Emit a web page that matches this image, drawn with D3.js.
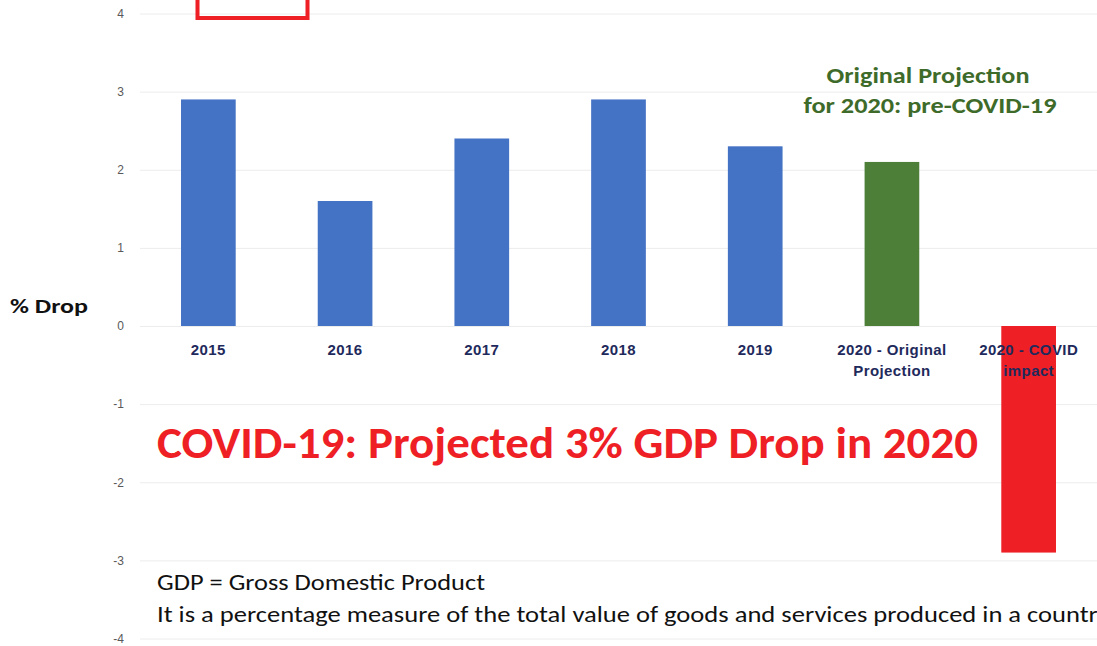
<!DOCTYPE html>
<html>
<head>
<meta charset="utf-8">
<script src="https://cdn.jsdelivr.net/npm/d3@7"></script>
<style>
  body { margin: 0; background: #fff; }
  svg { display: block; font-family: Carlito, Lato, "Open Sans", sans-serif; }
  .grid line { stroke: #ececec; }
  .grid text { fill: #595959; font-size: 12px; }
  .cat text { fill: #1f2a5c; font-weight: bold; font-size: 15px; }
</style>
</head>
<body>
<svg id="gdp"></svg>
<script>
const categories = ['2015', '2016', '2017', '2018', '2019', '2020 - Original Projection', '2020 - COVID impact'];
const categoryLines = [['2015'], ['2016'], ['2017'], ['2018'], ['2019'], ['2020 - Original', 'Projection'], ['2020 - COVID', 'impact']];
const values = [2.9, 1.6, 2.4, 2.9, 2.3, 2.1, -2.9];
const barColors = ['#4472c4', '#4472c4', '#4472c4', '#4472c4', '#4472c4', '#4e7f38', '#ee1f25'];
const yTicks = [-4, -3, -2, -1, 0, 1, 2, 3, 4];

(function() {
    const W = 1097, H = 646;
    const svg = d3.select('svg#gdp')
        .attr('width', W)
        .attr('height', H);

    const left = 140;

    const yScale = d3.scaleLinear()
        .domain([-4, 4])
        .range([638.5, 13.5]);

    const xScale = d3.scaleBand()
        .domain(categories)
        .range([left, W])
        .padding(0);

    // stretch text to the width it has in the original (Calibri is not here)
    function fit(sel, w) {
        sel.attr('textLength', w).attr('lengthAdjust', 'spacingAndGlyphs');
        return sel;
    }

    // grid + y labels
    svg.append('g')
        .attr('class', 'grid')
        .attr('transform', `translate(${left}, 0)`)
        .call(d3.axisLeft(yScale)
            .tickValues(yTicks)
            .tickSize(-(W - left))
            .tickPadding(16)
            .tickFormat(d => String(d)))
        .call(g => g.select('.domain').remove());

    // category labels
    const cat = svg.append('g')
        .attr('class', 'cat')
        .attr('transform', `translate(0, ${yScale(0)})`)
        .call(d3.axisBottom(xScale).tickSize(0).tickPadding(0))
        .call(g => g.select('.domain').remove());

    cat.selectAll('.tick text')
        .text(null)
        .attr('y', 0)
        .attr('dy', null)
        .each(function(d) {
            const lines = categoryLines[categories.indexOf(d)];
            const t = d3.select(this);
            lines.forEach((ln, i) => {
                t.append('tspan')
                    .attr('x', 0)
                    .attr('y', 29 + i * 21)
                    .style('letter-spacing', '0.4px')
                    .text(ln);
            });
        });

    const barW = xScale.bandwidth() * 0.4;

    svg.append('g')
        .selectAll('rect')
        .data(values)
        .enter()
        .append('rect')
        .attr('x', (v, i) => xScale(categories[i]) + (xScale.bandwidth() - barW) / 2)
        .attr('y', v => yScale(Math.max(0, v)))
        .attr('width', barW)
        .attr('height', v => Math.abs(yScale(v) - yScale(0)))
        .attr('fill', (v, i) => barColors[i]);

    // bring category labels over bars
    cat.raise();

    // red outline box (cut off at top)
    svg.append('rect')
        .attr('x', 197.5)
        .attr('y', -10)
        .attr('width', 110)
        .attr('height', 28)
        .attr('fill', 'none')
        .attr('stroke', '#ee1f25')
        .attr('stroke-width', 4);

    fit(svg.append('text')
        .attr('x', 10)
        .attr('y', 313)
        .attr('font-size', 20)
        .attr('font-weight', 'bold')
        .attr('fill', '#111')
        .text('% Drop'), 78);

    const gAttrs = t => t
        .attr('text-anchor', 'middle')
        .attr('font-size', 23)
        .attr('font-weight', 'bold')
        .attr('fill', '#3e6b2a');
    fit(gAttrs(svg.append('text')).attr('x', 928).attr('y', 83).text('Original Projection'), 203);
    fit(gAttrs(svg.append('text')).attr('x', 930).attr('y', 113).text('for 2020: pre-COVID-19'), 253);

    fit(svg.append('text')
        .attr('x', 157)
        .attr('y', 458)
        .attr('font-size', 44)
        .attr('font-weight', 'bold')
        .attr('fill', '#ee1f25')
        .text('COVID-19: Projected 3% GDP Drop in 2020'), 821);

    fit(svg.append('text')
        .attr('x', 157)
        .attr('y', 590)
        .attr('font-size', 23)
        .attr('fill', '#111')
        .text('GDP = Gross Domestic Product'), 328);

    fit(svg.append('text')
        .attr('x', 157)
        .attr('y', 622)
        .attr('font-size', 23)
        .attr('fill', '#111')
        .text('It is a percentage measure of the total value of goods and services produced in a country'), 953);
})();
</script>
</body>
</html>
